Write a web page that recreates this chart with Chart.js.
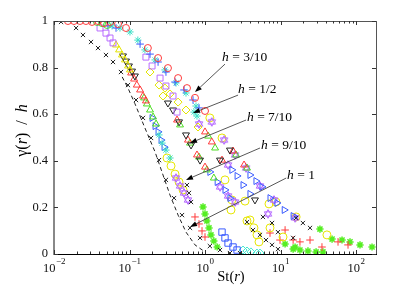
<!DOCTYPE html>
<html><head><meta charset="utf-8">
<script src="https://cdn.jsdelivr.net/npm/chart.js@4.4.1/dist/chart.umd.min.js"></script>
<style>html,body{margin:0;padding:0;background:#fff;}canvas{display:block;}</style>
</head><body>
<canvas id="c" width="415" height="286"></canvas>
<script>
// ---------- tick labels ----------
const xTicks = [0.01, 0.1, 1, 10, 100];
const xTickExp = ['\u22122', '\u22121', '0', '1', '2'];
const yTicks = [0, 0.2, 0.4, 0.6, 0.8, 1];

// ---------- annotation labels ----------
const hLabels = ['3/10', '1/2', '7/10', '9/10', '1'];
const arrowTips = [[0.737, 0.695], [0.694, 0.605], [0.633, 0.476], [0.560, 0.318], [0.633, 0.116]];
const arrowTails = [[1.84, 0.815], [2.74, 0.682], [3.50, 0.575], [5.35, 0.455], [11.9, 0.326]];
const labelAnchors = [[1.68, 0.845], [2.74, 0.708], [3.60, 0.588], [5.52, 0.468], [12.2, 0.335]];

// ---------- series values [St(r), gamma(r)/h] ----------
const blackCross = [[0.0124,0.996],[0.0196,0.970],[0.0242,0.940],[0.0309,0.910],[0.0383,0.884],[0.0488,0.854],[0.0605,0.824],[0.0771,0.781],[0.0955,0.725],[0.122,0.661],[0.151,0.584],[0.193,0.498],[0.246,0.403],[0.304,0.318],[0.389,0.240],[0.496,0.167],[0.633,0.112],[0.859,0.069],[1.16,0.034],[1.58,0.017],[2.14,0.004],[2.91,0.004],
  [0.577,0.296],[0.614,0.262],[0.653,0.223],
  [3.60,0.137],[4.32,0.103],[5.35,0.082],[6.42,0.060],[7.72,0.039],[9.26,0.021],
  [5.86,0.159],[7.72,0.133],[9.26,0.094],[14.7,0.069],
  [16.1,0.155],[19.8,0.133],[24.6,0.112]];
const dashedFit = [[0.08,0.76],[0.0955,0.712],[0.118,0.645],[0.160,0.541],[0.218,0.438],[0.278,0.339],[0.344,0.253],[0.440,0.167],[0.560,0.094],[0.737,0.039],[1.00,0.009]];
const redCircle = [[0.0153,1.0],[0.0184,1.0],[0.0221,1.0],[0.0265,1.0],[0.0319,0.996],[0.0383,1.0],[0.0460,0.991],[0.0552,0.996],[0.0705,0.987],[0.0898,0.970],[0.175,0.884],[0.239,0.841],[0.323,0.798],[0.440,0.755],[0.577,0.712],[0.737,0.670],[1.00,0.614]];
const greenCircle = [[0.0371,0.996],[0.0433,0.991],[0.0503,0.983]];
const bluePlus = [[0.0518,0.979],[0.0663,0.970],[0.138,0.901],[0.187,0.858],[0.239,0.824],[0.304,0.781],[0.401,0.738],[0.528,0.704],[0.694,0.661],[0.833,0.627]];
const cyanStar = [[0.0587,0.979],[0.0748,0.970],[0.1015,0.953],[0.129,0.918],[0.160,0.876],[0.218,0.833],[0.295,0.790],[0.413,0.734],[0.560,0.691],[0.760,0.635],[0.715,0.609],[0.783,0.592],[0.246,0.511],[0.270,0.476],[0.304,0.446],[0.344,0.412]];
const magentaSquare = [[0.0407,0.970],[0.0488,0.948],[0.0552,0.927],[0.0605,0.906],[0.165,0.845],[0.199,0.807],[0.254,0.755],[0.304,0.721],[0.377,0.678],[0.426,0.609]];
const yellowDiamond = [[0.295,0.712],[0.344,0.687],[0.440,0.652],[0.560,0.618],[0.187,0.781],[0.246,0.725],[0.278,0.678],[0.808,0.545]];
const yellowTriangle = [[0.0663,0.897],[0.0727,0.876],[0.0795,0.854],[0.0871,0.833],[0.0955,0.807],[0.1015,0.790]];
const blackTriDown = [[0.0820,0.850],[0.0898,0.828],[0.0984,0.807],[0.108,0.785],[0.118,0.764],[0.323,0.648],[0.377,0.618],[0.453,0.567],[0.560,0.511],[0.653,0.468],[0.859,0.403],[2.14,0.446],[4.59,0.232],[1.58,0.403]];
const redTriangle = [[0.105,0.777],[0.115,0.751],[0.125,0.725],[0.138,0.704],[0.151,0.678],[0.165,0.657],[0.426,0.575],[0.595,0.489],[0.783,0.425],[1.00,0.373],[1.00,0.524],[1.23,0.481],[1.68,0.403],[2.35,0.442],[3.29,0.382]];
const greenTriangle = [[0.156,0.670],[0.170,0.644],[0.187,0.618],[0.205,0.588],[0.225,0.558],[0.467,0.554],[0.633,0.476],[0.833,0.416],[1.06,0.361],[1.31,0.326],[1.10,0.506],[1.36,0.455],[2.58,0.425],[3.60,0.369]];
const blueTriangle = [[0.199,0.584],[0.218,0.549],[0.239,0.524],[0.262,0.489],[0.287,0.459],[1.16,0.352],[1.45,0.309],[1.84,0.275],[2.14,0.240],[2.27,0.361],[2.66,0.335],[3.19,0.296],[3.94,0.258],[3.94,0.339],[4.73,0.313],[5.69,0.288],[7.26,0.240],[8.98,0.219],[11.2,0.189],[14.7,0.163]];
const purpleHex = [[0.413,0.326],[0.467,0.292],[0.528,0.262],[0.595,0.232],[1.58,0.288],[2.02,0.249],[2.50,0.223],[0.833,0.558],[2.02,0.382],[6.83,0.172],[1.23,0.567],[1.79,0.489],[2.50,0.425],[3.50,0.369],[5.35,0.292],[8.20,0.232],[15.6,0.155]];
const yellowCircle = [[0.314,0.412],[0.355,0.378],[0.401,0.343],[0.453,0.309],[0.512,0.275],[2.27,0.232],[3.94,0.146],[4.45,0.112],[4.88,0.082],[5.19,0.052],[1.84,0.318],[2.21,0.189],[3.39,0.227],[3.60,0.142],[7.26,0.112],[10.8,0.073],[7.04,0.215],[1.16,0.584],[1.68,0.498],[8.71,0.223],[16.1,0.159],[41.2,0.082]];
const redPlus = [[0.737,0.159],[0.833,0.129],[0.913,0.099],[1.00,0.073],[7.26,0.090],[11.5,0.103],[14.7,0.060],[18.1,0.052],[24.6,0.060],[35.4,0.030],[57.8,0.052],[78.4,0.039],[9.85,0.060]];
const greenStar = [[0.941,0.202],[1.00,0.172],[1.06,0.142],[1.13,0.112],[1.20,0.082],[1.31,0.056],[1.45,0.030],[14.7,0.021],[18.1,0.017],[23.1,0.013],[29.6,0.009],[36.5,0.009],[11.5,0.043],[15.6,0.030],[33.3,0.107],[48.2,0.064],[65.3,0.060],[83.3,0.052],[113,0.039],[163,0.030]];
const blueSquare = [[1.68,0.094],[1.84,0.069],[2.02,0.047],[2.35,0.030],[2.66,0.017]];
const cyanDiamond = [[3.19,0.017],[3.60,0.013],[4.06,0.009],[4.88,0.004],[5.35,0.004]];

// ---------- hexagram marker ----------
function hexagram(color){
  const c = document.createElement('canvas'); c.width = 10; c.height = 10;
  const g = c.getContext('2d'); g.strokeStyle = color; g.lineWidth = 1;
  for (const rot of [-Math.PI/2, Math.PI/2]) {
    g.beginPath();
    for (let k = 0; k < 3; k++) {
      const a = rot + k*2*Math.PI/3;
      const px = 5 + 4.3*Math.cos(a), py = 5 + 4.3*Math.sin(a);
      k ? g.lineTo(px, py) : g.moveTo(px, py);
    }
    g.closePath(); g.stroke();
  }
  return c;
}

const pts = a => a.map(p => ({x: p[0], y: p[1]}));
function mk(data, style, color, r, extra){
  return Object.assign({data: pts(data), pointStyle: style, pointRadius: r, pointBorderColor: color,
    pointBackgroundColor: 'rgba(0,0,0,0)', pointBorderWidth: 1, showLine: false}, extra || {});
}

const datasets = [
  Object.assign(mk(dashedFit, 'circle', '#222', 0), {showLine: true, borderColor: '#222', borderWidth: 1, borderDash: [4, 3], fill: false}),
  mk(blackCross, 'crossRot', '#222', 3),
  mk(redCircle, 'circle', '#ff3b3b', 3.5),
  mk(greenCircle, 'circle', '#44dd33', 3.5),
  mk(bluePlus, 'cross', '#3a5bff', 3.8),
  mk(cyanStar, 'star', '#40e0c8', 3.6),
  mk(magentaSquare, 'rect', '#b96cff', 4.2),
  mk(yellowDiamond, 'rectRot', '#e4e400', 4),
  mk(yellowTriangle, 'triangle', '#e4e400', 4),
  mk(blackTriDown, 'triangle', '#222', 4, {pointRotation: 180}),
  mk(redTriangle, 'triangle', '#ff3b3b', 4),
  mk(greenTriangle, 'triangle', '#4ddd22', 4),
  mk(blueTriangle, 'triangle', '#3a5bff', 4, {pointRotation: 90}),
  mk(purpleHex, hexagram('#b366ff'), '#b366ff', 4),
  mk(yellowCircle, 'circle', '#e6e600', 4),
  mk(redPlus, 'cross', '#ff3b3b', 3.8),
  mk(greenStar, 'star', '#55ee22', 3.6, {pointBorderWidth: 1.5}),
  mk(blueSquare, 'rect', '#3a5bff', 4.5),
  mk(cyanDiamond, 'rectRot', '#44e8d0', 4)
];

const SERIF = '"Liberation Serif", "Times New Roman", serif';

const decor = {
  id: 'decor',
  afterDraw(chart){
    const {ctx, chartArea: a, scales: {x, y}} = chart;
    ctx.save();
    // axes box
    ctx.lineWidth = 1;
    ctx.strokeStyle = '#555';
    ctx.beginPath(); ctx.moveTo(a.left, a.top + 0.5); ctx.lineTo(a.right, a.top + 0.5); ctx.stroke();
    ctx.beginPath(); ctx.moveTo(a.right + 0.5, a.top); ctx.lineTo(a.right + 0.5, a.bottom); ctx.stroke();
    ctx.strokeStyle = '#000';
    ctx.beginPath(); ctx.moveTo(a.left, a.bottom + 0.5); ctx.lineTo(a.right + 1, a.bottom + 0.5); ctx.stroke();
    ctx.strokeStyle = '#888'; ctx.lineWidth = 2;
    ctx.beginPath(); ctx.moveTo(a.left, a.top); ctx.lineTo(a.left, a.bottom + 1); ctx.stroke();
    // ticks
    ctx.strokeStyle = '#333'; ctx.lineWidth = 1;
    const lo = Math.log10(x.min), hi = Math.log10(x.max);
    for (let d = Math.floor(lo); d <= Math.ceil(hi); d++) {
      for (let k = 1; k <= 9; k++) {
        const v = k * Math.pow(10, d);
        if (v < x.min * 0.999 || v > x.max) continue;
        const px = Math.round(x.getPixelForValue(v)) + 0.5;
        const len = k === 1 ? 4 : 2.5;
        ctx.beginPath(); ctx.moveTo(px, a.bottom); ctx.lineTo(px, a.bottom - len); ctx.stroke();
        ctx.beginPath(); ctx.moveTo(px, a.top); ctx.lineTo(px, a.top + len); ctx.stroke();
      }
    }
    for (const v of yTicks) {
      const py = Math.round(y.getPixelForValue(v)) + 0.5;
      ctx.beginPath(); ctx.moveTo(a.left, py); ctx.lineTo(a.left + 4, py); ctx.stroke();
      ctx.beginPath(); ctx.moveTo(a.right, py); ctx.lineTo(a.right - 4, py); ctx.stroke();
    }
    // x tick labels 10^n
    ctx.fillStyle = '#111';
    ctx.textBaseline = 'alphabetic'; ctx.textAlign = 'left';
    xTicks.forEach((v, i) => {
      const px = x.getPixelForValue(v);
      ctx.font = '12.5px ' + SERIF; const w1 = ctx.measureText('10').width;
      ctx.font = '9px ' + SERIF; const w2 = ctx.measureText(xTickExp[i]).width;
      const start = px - (w1 + w2) / 2;
      ctx.font = '12.5px ' + SERIF; ctx.fillText('10', start, a.bottom + 18);
      ctx.font = '9px ' + SERIF; ctx.fillText(xTickExp[i], start + w1 + 0.5, a.bottom + 10);
    });
    const drawParts = (pp, sx, sy, size) => {
      let cx = sx;
      for (const [t, it] of pp) {
        ctx.font = (it ? 'italic ' : '') + size + 'px ' + SERIF;
        ctx.fillText(t, cx, sy);
        cx += ctx.measureText(t).width;
      }
      return cx - sx;
    };
    const width = (pp, size) => pp.reduce((s, [t, it]) => { ctx.font = (it ? 'italic ' : '') + size + 'px ' + SERIF; return s + ctx.measureText(t).width; }, 0);
    // x title St(r)
    const parts = [['St(', false], ['r', true], [')', false]];
    ctx.fillStyle = '#000';
    drawParts(parts, 231 - width(parts, 14.5) / 2 + (a.left - 54), a.bottom + 27, 14.5);
    // y title
    const yparts = [['\u03b3(', false], ['r', true], [')  /  ', false], ['h', true]];
    ctx.save();
    ctx.translate(a.left - 32, y.getPixelForValue(0.53));
    ctx.rotate(-Math.PI / 2);
    drawParts(yparts, -width(yparts, 16) / 2, 5, 16);
    ctx.restore();
    // annotations
    hLabels.forEach((lab, i) => {
      const tx = x.getPixelForValue(arrowTips[i][0]), ty = y.getPixelForValue(arrowTips[i][1]);
      const sx = x.getPixelForValue(arrowTails[i][0]), sy = y.getPixelForValue(arrowTails[i][1]);
      const ang = Math.atan2(ty - sy, tx - sx);
      const L = 7, W = 2.6;
      const bx = tx - L * Math.cos(ang), by = ty - L * Math.sin(ang);
      ctx.strokeStyle = '#444'; ctx.lineWidth = 0.9;
      ctx.beginPath(); ctx.moveTo(sx, sy); ctx.lineTo(bx, by); ctx.stroke();
      ctx.fillStyle = '#000';
      ctx.beginPath(); ctx.moveTo(tx, ty);
      ctx.lineTo(bx + W * Math.sin(ang), by - W * Math.cos(ang));
      ctx.lineTo(bx - W * Math.sin(ang), by + W * Math.cos(ang));
      ctx.closePath(); ctx.fill();
      const lx = x.getPixelForValue(labelAnchors[i][0]), ly = y.getPixelForValue(labelAnchors[i][1]);
      ctx.textBaseline = 'middle';
      drawParts([['h', true], [' = ' + lab, false]], lx, ly, 13.5);
      ctx.textBaseline = 'alphabetic';
    });
    ctx.restore();
  }
};

new Chart(document.getElementById('c'), {
  type: 'scatter',
  data: {datasets},
  options: {
    responsive: false, animation: false, events: [],
    layout: {padding: {left: 0, right: 39, top: 21, bottom: 0}},
    plugins: {legend: {display: false}, tooltip: {enabled: false}},
    scales: {
      x: {type: 'logarithmic', min: 0.01, max: 184,
          grid: {display: false, drawTicks: false}, border: {display: false},
          ticks: {display: false},
          afterFit: s => { s.height = 32; }},
      y: {type: 'linear', min: 0, max: 1,
          grid: {display: false, drawTicks: false}, border: {display: false},
          afterBuildTicks: s => { s.ticks = yTicks.map(v => ({value: v})); },
          ticks: {padding: 6, color: '#111', font: {family: SERIF, size: 12.5},
                  callback: v => String(+(+v).toFixed(1))},
          afterFit: s => { s.width = 54; }}
    }
  },
  plugins: [decor]
});
</script>
</body></html>
